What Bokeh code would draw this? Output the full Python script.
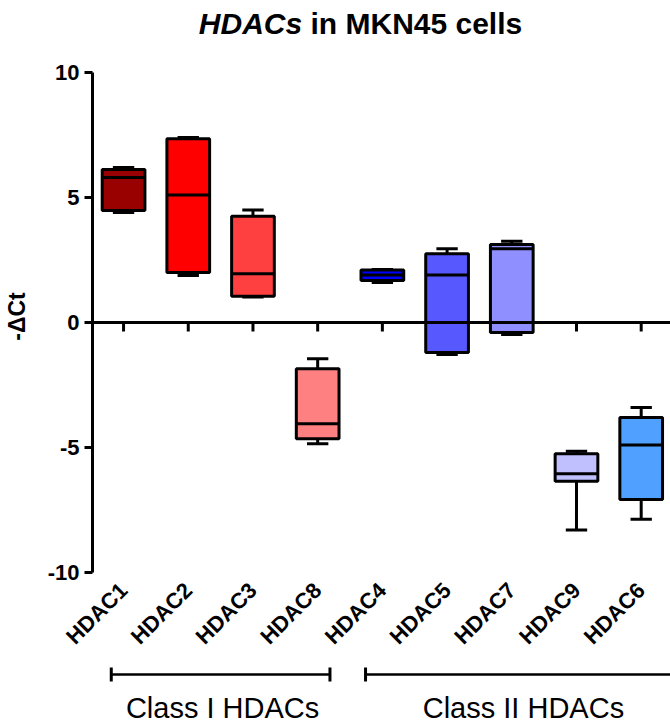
import math
from bokeh.plotting import figure
from bokeh.models import Range1d, FixedTicker, Span
from bokeh.layouts import column
from bokeh.embed import file_html
from bokeh.resources import INLINE
from bokeh.core.properties import value

# ---- data ----
categories = ["HDAC1", "HDAC2", "HDAC3", "HDAC8", "HDAC4", "HDAC5", "HDAC7", "HDAC9", "HDAC6"]
whisker_max = [6.2, 7.4, 4.5, -1.45, 2.12, 2.95, 3.25, -5.15, -3.4]
q3 = [6.12, 7.35, 4.25, -1.85, 2.1, 2.75, 3.12, -5.25, -3.8]
median = [5.8, 5.1, 1.95, -4.05, 1.9, 1.9, 2.95, -6.05, -4.9]
q1 = [4.48, 2.0, 1.05, -4.65, 1.68, -1.2, -0.4, -6.35, -7.08]
whisker_min = [4.4, 1.88, 1.02, -4.85, 1.6, -1.28, -0.48, -8.3, -7.87]
colors = ["#990000", "#FF0000", "#FF4040", "#FF8080", "#0000FF",
          "#5858FF", "#8F8FFF", "#C0C0FF", "#50A0FF"]
y_ticks = [-10, -5, 0, 5, 10]
y_tick_labels = ["-10", "-5", "0", "5", "10"]
title_italic = "HDACs"
title_rest = "\u00a0in MKN45 cells"
groups = ["Class I HDACs", "Class II HDACs"]
group_first = ["HDAC1", "HDAC4"]
group_last = ["HDAC8", "HDAC6"]

FONT = "Liberation Sans"

xs = [i + 1 for i in range(len(categories))]
pos = dict(zip(categories, xs))
half_box = 0.33
half_cap = 0.165

x_range = Range1d(0.52, 9.453)


def bare(fig):
    fig.outline_line_color = None
    fig.xgrid.grid_line_color = None
    fig.ygrid.grid_line_color = None
    fig.background_fill_color = "white"
    fig.border_fill_color = "white"


# ---- title strip ----
p0 = figure(frame_width=578, frame_height=60, x_range=x_range,
            y_range=Range1d(0, 60), output_backend="svg", toolbar_location=None,
            min_border_left=92, min_border_right=0, min_border_top=0,
            min_border_bottom=0, x_axis_location=None, y_axis_location=None)
bare(p0)
title_x = 3.76
p0.text(x=[title_x], y=[37], text=[title_italic], text_align="right",
        text_baseline="middle", text_font=value(FONT),
        text_font_style="bold italic", text_font_size="30px", text_color="black")
p0.text(x=[title_x], y=[37], text=[title_rest], text_align="left",
        text_baseline="middle", text_font=value(FONT),
        text_font_style="bold", text_font_size="30px", text_color="black")

# ---- main plot ----
p = figure(frame_width=578, frame_height=512, x_range=x_range,
           y_range=Range1d(-10, 10.48),
           output_backend="svg", toolbar_location=None,
           min_border_left=92, min_border_right=0, min_border_top=0,
           min_border_bottom=60)
bare(p)

ya = p.yaxis[0]
ya.ticker = FixedTicker(ticks=y_ticks)
ya.major_label_overrides = dict(zip(y_ticks, y_tick_labels))
ya.bounds = (y_ticks[0], y_ticks[-1])
ya.axis_line_width = 3
ya.major_tick_line_width = 3
ya.major_tick_out = 8
ya.major_tick_in = 0
ya.minor_tick_line_color = None
ya.major_label_text_font = FONT
ya.major_label_text_font_style = "bold"
ya.major_label_text_font_size = "22px"
ya.major_label_text_color = "black"
ya.major_label_standoff = 5
ya.axis_label = "-\u0394Ct"
ya.axis_label_text_font = FONT
ya.axis_label_text_font_style = "bold"
ya.axis_label_text_font_size = "23px"
ya.axis_label_text_color = "black"
ya.axis_label_standoff = 15

xa = p.xaxis[0]
xa.ticker = FixedTicker(ticks=xs)
xa.major_label_overrides = {x: c for x, c in zip(xs, categories)}
xa.major_label_orientation = math.pi / 4
xa.axis_line_color = None
xa.major_tick_line_color = None
xa.minor_tick_line_color = None
xa.major_label_text_font = FONT
xa.major_label_text_font_style = "bold"
xa.major_label_text_font_size = "22px"
xa.major_label_text_color = "black"
xa.major_label_standoff = 8

# zero line with category ticks
p.add_layout(Span(location=0, dimension="width", line_color="black", line_width=3))
p.segment(x0=xs, x1=xs, y0=[0] * len(xs), y1=[-0.36] * len(xs),
          line_color="black", line_width=3)

# whiskers
p.segment(x0=xs, x1=xs, y0=q3, y1=whisker_max, line_color="black", line_width=3)
p.segment(x0=xs, x1=xs, y0=q1, y1=whisker_min, line_color="black", line_width=3)
p.segment(x0=[x - half_cap for x in xs], x1=[x + half_cap for x in xs],
          y0=whisker_max, y1=whisker_max, line_color="black", line_width=3)
p.segment(x0=[x - half_cap for x in xs], x1=[x + half_cap for x in xs],
          y0=whisker_min, y1=whisker_min, line_color="black", line_width=3)

# boxes and medians
p.quad(left=[x - half_box for x in xs], right=[x + half_box for x in xs],
       top=q3, bottom=q1, fill_color=colors, line_color="black", line_width=3)
p.segment(x0=[x - half_box for x in xs], x1=[x + half_box for x in xs],
          y0=median, y1=median, line_color="black", line_width=3)

# ---- group brackets ----
p2 = figure(frame_width=578, frame_height=63, x_range=x_range, y_range=Range1d(0, 63),
            output_backend="svg", toolbar_location=None,
            min_border_left=92, min_border_right=0, min_border_top=0,
            min_border_bottom=0, x_axis_location=None, y_axis_location=None)
bare(p2)

g_start = [pos[group_first[0]] - 0.19, pos[group_first[1]] - 0.26]
g_end = [pos[group_last[0]] + 0.19, pos[group_last[1]] + 0.6]
bracket_y = 49
p2.segment(x0=g_start, x1=g_end, y0=[bracket_y] * 2, y1=[bracket_y] * 2,
           line_color="black", line_width=2.5)
p2.segment(x0=g_start + g_end, x1=g_start + g_end,
           y0=[bracket_y - 7] * 4, y1=[bracket_y + 7] * 4,
           line_color="black", line_width=3)
label_x = [(pos[group_first[0]] + pos[group_last[0]]) / 2 + 0.03,
           (pos[group_first[1]] + pos[group_last[1]]) / 2 + 0.18]
p2.text(x=label_x, y=[16, 16], text=groups, text_align="center",
        text_baseline="middle", text_font=value(FONT),
        text_font_size="29px", text_color="black")

layout = column(p0, p, p2, spacing=0)
open("out.html", "w").write(file_html(layout, INLINE))
